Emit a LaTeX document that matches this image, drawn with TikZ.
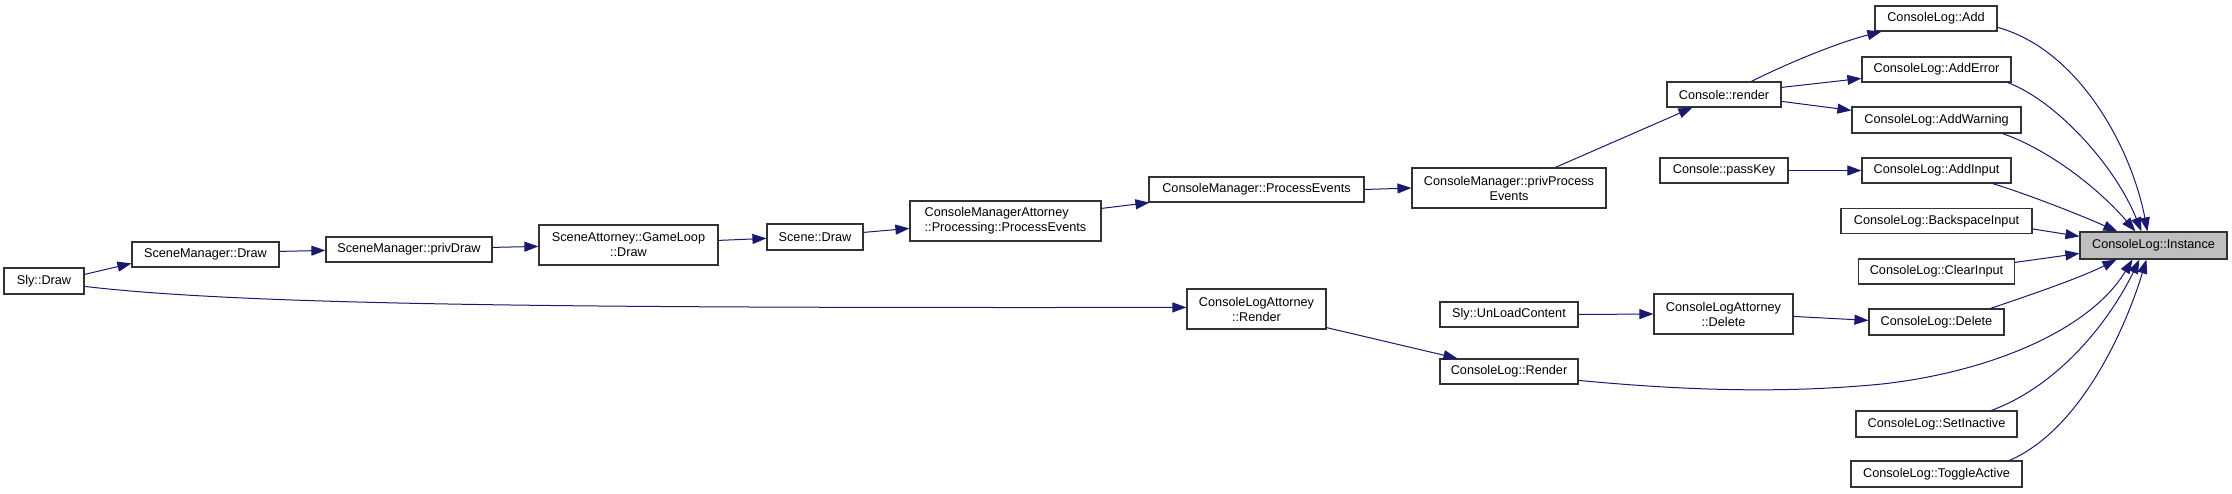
\documentclass[tikz,border=0pt]{standalone}
\usepackage{fontspec}
\setmainfont{Liberation Sans}
\usetikzlibrary{arrows.meta,calc}
\definecolor{edgec}{HTML}{191970}
\definecolor{instfill}{HTML}{BFBFBF}
\begin{document}
\begin{tikzpicture}[x=1pt,y=-1pt,
  fn/.style={draw=black!80,line width=1.2pt,rectangle,inner sep=0pt,font=\fontsize{12.7}{15}\selectfont,align=center},
  call/.style={draw=edgec,line width=1pt,-{Triangle[length=14pt,width=10pt,fill=edgec]}}]
\useasboundingbox (0,0) rectangle (2232,493);
\fill[white] (0,0) rectangle (2232,493);

\node[fn,minimum width=80pt,minimum height=26pt] (sly) at (44,281) {Sly::Draw};
\node[fn,minimum width=147pt,minimum height=25pt] (smd) at (205.5,254.5) {SceneManager::Draw};
\node[fn,minimum width=166pt,minimum height=25pt] (smpd) at (409,249.5) {SceneManager::privDraw};
\node[fn,minimum width=179pt,minimum height=40pt] (sagl) at (628.5,245) {SceneAttorney::GameLoop\\::Draw};
\node[fn,minimum width=96pt,minimum height=26pt] (scd) at (815,237) {Scene::Draw};
\node[fn,minimum width=191pt,minimum height=40pt,align=left] (cmape) at (1005.5,221) {ConsoleManagerAttorney\\::Processing::ProcessEvents};
\node[fn,minimum width=215pt,minimum height=25pt] (cmpe) at (1256.5,189.5) {ConsoleManager::ProcessEvents};
\node[fn,minimum width=194pt,minimum height=40pt] (cmppe) at (1509,188) {ConsoleManager::privProcess\\Events};
\node[fn,minimum width=114pt,minimum height=25pt] (cr) at (1724,94.5) {Console::render};
\node[fn,minimum width=128pt,minimum height=25pt] (cpk) at (1724,170.5) {Console::passKey};
\node[fn,minimum width=122pt,minimum height=25pt] (cla) at (1936,18.5) {ConsoleLog::Add};
\node[fn,minimum width=149pt,minimum height=25pt] (clae) at (1936.5,69.5) {ConsoleLog::AddError};
\node[fn,minimum width=169pt,minimum height=26pt] (claw) at (1936.5,120) {ConsoleLog::AddWarning};
\node[fn,minimum width=149pt,minimum height=25pt] (clai) at (1936.5,170.5) {ConsoleLog::AddInput};
\node[fn,minimum width=191pt,minimum height=25pt] (clbi) at (1936.5,221) {ConsoleLog::BackspaceInput};
\node[fn,minimum width=156pt,minimum height=25pt] (clci) at (1936.5,271.5) {ConsoleLog::ClearInput};
\node[fn,fill=instfill,minimum width=147pt,minimum height=27pt] (inst) at (2153.5,245.5) {ConsoleLog::Instance};
\node[fn,minimum width=139pt,minimum height=40pt] (clad) at (1723.5,314) {ConsoleLogAttorney\\::Delete};
\node[fn,minimum width=135pt,minimum height=26pt] (cld) at (1936.5,322) {ConsoleLog::Delete};
\node[fn,minimum width=138pt,minimum height=25pt] (slu) at (1509,314.5) {Sly::UnLoadContent};
\node[fn,minimum width=139pt,minimum height=40pt] (clar) at (1256.5,309) {ConsoleLogAttorney\\::Render};
\node[fn,minimum width=138pt,minimum height=25pt] (clr) at (1509,371.5) {ConsoleLog::Render};
\node[fn,minimum width=161pt,minimum height=26pt] (clsi) at (1936.5,424) {ConsoleLog::SetInactive};
\node[fn,minimum width=171pt,minimum height=26pt] (clta) at (1936.5,474) {ConsoleLog::ToggleActive};

\draw[call] ($(sly.north east)+(0,7)$) -- ($(smd.north west)+(0,22)$);
\draw[call] ($(smd.north east)+(0,10)$) -- ($(smpd.north west)+(0,14)$);
\draw[call] ($(smpd.north east)+(0,11)$) -- ($(sagl.north west)+(0,22)$);
\draw[call] ($(sagl.north east)+(0,16)$) -- ($(scd.north west)+(0,15)$);
\draw[call] ($(scd.north east)+(0,9)$) -- ($(cmape.north west)+(0,28)$);
\draw[call] ($(cmape.north east)+(0,8)$) -- ($(cmpe.south west)+(1,0)$);
\draw[call] (cmpe.east) -- (cmppe.west);
\draw[call] ($(cmppe.north west)+(144,0)$) -- ($(cr.south west)+(26,0)$);
\draw[call] ($(cr.north west)+(85,0)$) .. controls (1790,62) and (1840,42) .. ($(cla.south west)+(7,0)$);
\draw[call] ($(cr.north east)+(0,6)$) -- ($(clae.north west)+(0,22)$);
\draw[call] ($(cr.north east)+(0,20)$) -- ($(claw.north west)+(0,4)$);
\draw[call] (cpk.east) -- (clai.west);
\draw[call] (slu.east) -- (clad.west);
\draw[call] ($(clad.north east)+(0,23)$) -- ($(cld.north west)+(0,12)$);
\draw[call] ($(sly.north east)+(0,19)$) .. controls (250,306) and (600,308) .. ($(clar.north west)+(0,19)$);
\draw[call] ($(clar.south east)+(0,-2)$) -- ($(clr.north west)+(18,0)$);

\draw[call] ($(cla.north east)+(0,22)$) .. controls (2080,50) and (2132,150) .. ($(inst.north west)+(68,0)$);
\draw[call] ($(clae.south east)+(-4,0)$) .. controls (2055,100) and (2115,165) .. ($(inst.north west)+(62,0)$);
\draw[call] ($(claw.south east)+(-19,0)$) .. controls (2050,150) and (2100,190) .. ($(inst.north west)+(56,0)$);
\draw[call] ($(clai.south east)+(-19,0)$) .. controls (2030,195) and (2080,215) .. ($(inst.north west)+(38,0)$);
\draw[call] ($(clbi.north east)+(0,21)$) -- ($(inst.north west)+(0,5)$);
\draw[call] ($(clci.north east)+(0,4)$) -- ($(inst.north west)+(0,22)$);
\draw[call] ($(cld.north east)+(-14,0)$) .. controls (2030,295) and (2080,278) .. ($(inst.south west)+(37,0)$);
\draw[call] ($(clr.north east)+(0,22)$) .. controls (1680,390) and (1780,394) .. (1882,384) .. controls (1990,372) and (2090,330) .. ($(inst.south west)+(53,0)$);
\draw[call] ($(clsi.north west)+(136,0)$) .. controls (2060,385) and (2110,320) .. ($(inst.south west)+(60,0)$);
\draw[call] ($(clta.north west)+(159,0)$) .. controls (2080,430) and (2125,330) .. ($(inst.south west)+(67,0)$);
\end{tikzpicture}
\end{document}
